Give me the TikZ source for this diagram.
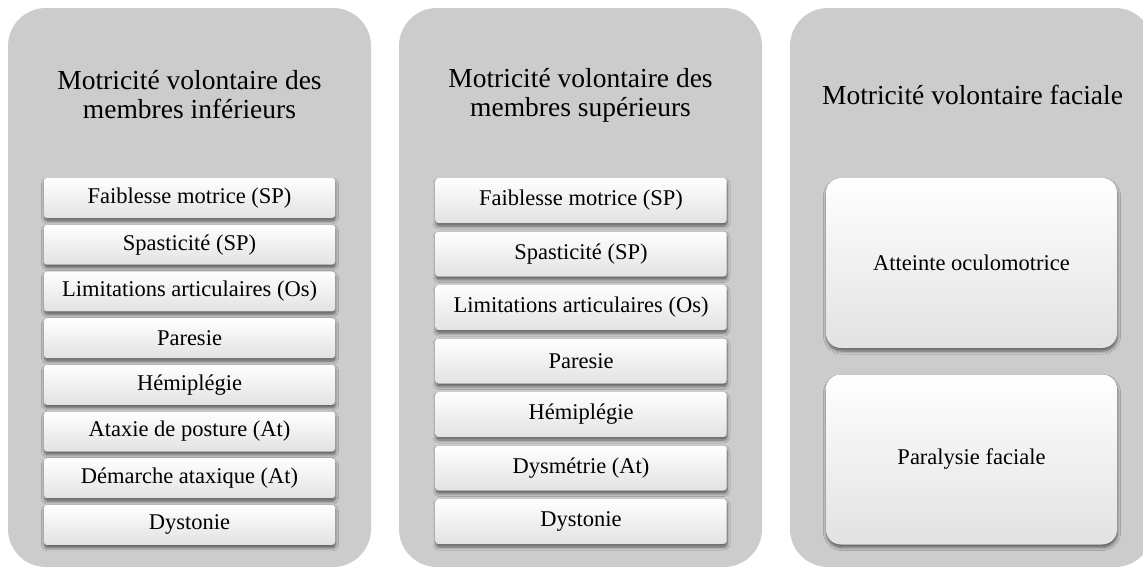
\documentclass[tikz,border=0pt]{standalone}
\usepackage{fontspec}
\setmainfont{Liberation Serif}
\usetikzlibrary{shadows.blur}
\definecolor{panelgray}{HTML}{CCCCCC}
\definecolor{boxbot}{HTML}{E2E2E2}
\begin{document}
\begin{tikzpicture}[x=1pt,y=-1pt]
\tikzset{
  panel/.style={fill=panelgray, rounded corners=38pt},
  title/.style={align=center, inner sep=0pt, font=\fontsize{27.5}{29}\selectfont},
  itembox/.style={rounded corners=3pt, top color=white, middle color=white, bottom color=boxbot,
    blur shadow={shadow xshift=0.5pt, shadow yshift=-3pt, shadow blur steps=6, shadow blur radius=3pt, shadow opacity=55},
    minimum width=291pt, inner sep=0pt, font=\fontsize{22.5}{24}\selectfont},
  smallA/.style={itembox, minimum height=40pt},
  smallB/.style={itembox, minimum height=45pt},
  bigbox/.style={itembox, rounded corners=15pt, minimum height=170pt}
}
\useasboundingbox (0,0) rectangle (1143,570);
\clip (0,0) rectangle (1143,570);
% panels
\path[panel] (8,8) rectangle (371,567);
\path[panel] (399,8) rectangle (762,567);
\path[panel] (790,8) rectangle (1153,567);
% titles
\node[title] (t1) at (189.5,95) {Motricité volontaire des\\membres inférieurs};
\node[title] (t2) at (580.5,95) {Motricité volontaire des\\membres supérieurs};
\node[title] (t3) at (972.5,95) {Motricité volontaire faciale};
% panel 1 items
\node[smallA] (a1) at (189.5,198.0) {Faiblesse motrice (SP)};
\node[smallA] (a2) at (189.5,244.7) {Spasticité (SP)};
\node[smallA] (a3) at (189.5,291.4) {Limitations articulaires (Os)};
\node[smallA] (a4) at (189.5,338.1) {Paresie};
\node[smallA] (a5) at (189.5,384.8) {Hémiplégie};
\node[smallA] (a6) at (189.5,431.5) {Ataxie de posture (At)};
\node[smallA] (a7) at (189.5,478.2) {Démarche ataxique (At)};
\node[smallA] (a8) at (189.5,524.9) {Dystonie};
% panel 2 items
\node[smallB] (b1) at (581,200.5) {Faiblesse motrice (SP)};
\node[smallB] (b2) at (581,254.0) {Spasticité (SP)};
\node[smallB] (b3) at (581,307.5) {Limitations articulaires (Os)};
\node[smallB] (b4) at (581,361.0) {Paresie};
\node[smallB] (b5) at (581,414.5) {Hémiplégie};
\node[smallB] (b6) at (581,468.0) {Dysmétrie (At)};
\node[smallB] (b7) at (581,521.5) {Dystonie};
% panel 3 items
\node[bigbox] (c1) at (971.5,263) {Atteinte oculomotrice};
\node[bigbox] (c2) at (971.5,459.5) {Paralysie faciale};
\end{tikzpicture}
\end{document}
